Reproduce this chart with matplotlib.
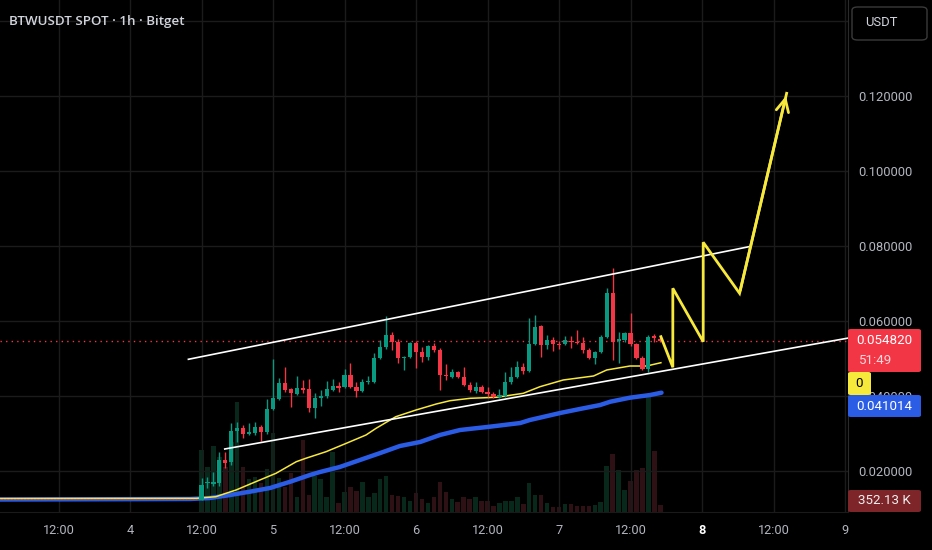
import numpy as np
import matplotlib.pyplot as plt
from matplotlib.patches import FancyBboxPatch

plt.rcParams['font.family'] = ['Roboto', 'DejaVu Sans']

# hourly candles, first one is day 4 12:00 (hours counted from day 4 00:00)
start_hour = 12
opens = [0.0124, 0.0170, 0.01667, 0.01693, 0.02307, 0.02253, 0.0308, 0.0316, 0.0300, 0.03027,
         0.03187, 0.03053, 0.03667, 0.03933, 0.0436, 0.0420, 0.04067, 0.04227, 0.0420, 0.03693,
         0.0396, 0.04013, 0.04173, 0.0428, 0.04253, 0.04573, 0.04253, 0.04147, 0.04387, 0.04387,
         0.05027, 0.0532, 0.0564, 0.05453, 0.05027, 0.05053, 0.05427, 0.05187, 0.05053, 0.05347,
         0.0524, 0.04573, 0.0452, 0.04653, 0.0452, 0.04307, 0.04147, 0.04253, 0.0412, 0.04067,
         0.03987, 0.04013, 0.04387, 0.0452, 0.04787, 0.0468, 0.0540, 0.0588, 0.05373, 0.05507,
         0.0540, 0.0540, 0.0548, 0.05453, 0.05427, 0.0524, 0.05027, 0.05187, 0.05587, 0.0676,
         0.05493, 0.05507, 0.05693, 0.0540, 0.05027, 0.04733, 0.05587, 0.05533]
highs = [0.01827, 0.01853, 0.01987, 0.0252, 0.0252, 0.03293, 0.0332, 0.0324, 0.03293, 0.0332,
         0.0324, 0.03933, 0.0500, 0.04493, 0.04787, 0.04227, 0.04547, 0.0444, 0.04467, 0.04093,
         0.04173, 0.04413, 0.04467, 0.04387, 0.0473, 0.04893, 0.04387, 0.04467, 0.04547, 0.0516,
         0.05507, 0.06147, 0.0572, 0.05533, 0.0508, 0.05453, 0.0548, 0.0532, 0.05373, 0.05427,
         0.05293, 0.04867, 0.0473, 0.0468, 0.04787, 0.04387, 0.04387, 0.04307, 0.04253, 0.0412,
         0.0420, 0.04653, 0.04787, 0.04947, 0.04893, 0.06093, 0.06173, 0.05907, 0.0564, 0.05587,
         0.0548, 0.05613, 0.05613, 0.05773, 0.05587, 0.05293, 0.05213, 0.0564, 0.06893, 0.07427,
         0.0572, 0.0572, 0.06227, 0.05427, 0.0508, 0.0564, 0.05667, 0.05587]
lows = [0.0124, 0.0156, 0.01613, 0.01613, 0.02093, 0.02173, 0.02787, 0.02893, 0.02973, 0.02973,
        0.02813, 0.0300, 0.0364, 0.03907, 0.0412, 0.0372, 0.0404, 0.04093, 0.03587, 0.03427,
        0.03747, 0.0396, 0.04147, 0.0412, 0.04227, 0.04227, 0.03987, 0.0412, 0.04333, 0.0436,
        0.0500, 0.05267, 0.0524, 0.04893, 0.0471, 0.05027, 0.0476, 0.0492, 0.04973, 0.05187,
        0.04173, 0.0444, 0.04493, 0.04493, 0.0428, 0.0412, 0.04093, 0.04093, 0.03987, 0.0396,
        0.0396, 0.03987, 0.04333, 0.04493, 0.0460, 0.04653, 0.05373, 0.05053, 0.05267, 0.05213,
        0.05267, 0.05373, 0.05293, 0.0540, 0.05159, 0.0500, 0.04867, 0.0516, 0.0556, 0.04973,
        0.04893, 0.05453, 0.05347, 0.0500, 0.0471, 0.04653, 0.05453, 0.05453]
closes = [0.0164, 0.0172, 0.0172, 0.02307, 0.02227, 0.0308, 0.0316, 0.0300, 0.03053, 0.03187,
          0.03053, 0.03667, 0.0396, 0.0436, 0.04173, 0.04093, 0.04227, 0.04173, 0.03693, 0.0396,
          0.04013, 0.0420, 0.0428, 0.04227, 0.04573, 0.04253, 0.04147, 0.04387, 0.04413, 0.05027,
          0.0532, 0.0564, 0.05453, 0.05027, 0.05053, 0.05427, 0.05187, 0.05053, 0.05347, 0.0524,
          0.04573, 0.04547, 0.04653, 0.0452, 0.04307, 0.04173, 0.04253, 0.0412, 0.04067, 0.03987,
          0.0404, 0.04387, 0.0452, 0.04787, 0.0468, 0.0540, 0.05853, 0.05373, 0.05507, 0.0540,
          0.05373, 0.05507, 0.05453, 0.05427, 0.0524, 0.05027, 0.05187, 0.05587, 0.0676, 0.05453,
          0.05507, 0.05693, 0.0540, 0.05027, 0.04733, 0.05587, 0.05573, 0.05482]
volumes_k = [3100, 2250, 3300, 2750, 2250, 3500, 5500, 2250, 1650, 1750,
             1450, 2150, 3950, 1700, 1250, 1950, 750, 3600, 850, 1800,
             1650, 750, 3000, 450, 1000, 1250, 1050, 1500, 750, 950,
             1650, 1800, 850, 800, 750, 550, 950, 650, 450, 750,
             1500, 1000, 650, 500, 750, 650, 750, 550, 550, 300,
             450, 550, 550, 750, 400, 1450, 850, 850, 450, 250,
             250, 400, 400, 300, 300, 300, 350, 500, 2300, 2900,
             2100, 1100, 1550, 2100, 2200, 5750, 3050, 352.13]

# moving averages (hour, price)
ma_fast_hours = [-21.8, 11.1, 14.4, 16.1, 17.8, 21.1, 24.5, 27.9, 29.5, 32.9, 36.3, 39.6, 41.3,
                 44.6, 48.0, 51.4, 53.7, 57.1, 61.5, 66.0, 68.8, 72.7, 77.8, 80.0, 83.9, 86.7, 89.1]
ma_fast = [0.0128, 0.01285, 0.01328, 0.01419, 0.01507, 0.01728, 0.01952, 0.02261, 0.02352, 0.02528,
           0.02752, 0.02973, 0.03152, 0.03461, 0.0364, 0.0380, 0.03888, 0.03952, 0.03979, 0.04085,
           0.04261, 0.0444, 0.04547, 0.04707, 0.04813, 0.04813, 0.04901]
ma_slow_hours = [-21.8, 10.1, 13.4, 16.8, 20.1, 23.5, 26.9, 30.2, 31.9, 35.2, 38.6, 42.0, 45.3,
                 48.7, 52.0, 55.4, 60.4, 65.5, 67.1, 72.2, 75.5, 78.9, 80.6, 83.9, 87.3, 89.2]
ma_slow = [0.01253, 0.01267, 0.01293, 0.01373, 0.01461, 0.0156, 0.01728, 0.01907, 0.01987, 0.0212,
           0.02307, 0.02493, 0.0268, 0.02787, 0.02973, 0.03107, 0.03195, 0.03293, 0.03373, 0.0356,
           0.03667, 0.03773, 0.03861, 0.03968, 0.0404, 0.041014]
pre_listing_price = 0.0127

# drawings: channel and projected path
channel_upper = ([9.8, 103.9], [0.04992, 0.07995])
channel_lower = ([15.9, 121.0], [0.0260, 0.05571])
path_hours = [89.1, 91.1, 91.1, 96.2, 96.2, 102.3, 110.2]
path_prices = [0.05595, 0.04779, 0.06885, 0.05461, 0.08112, 0.06752, 0.12085]

price_ticks = [0.02, 0.04, 0.06, 0.08, 0.10, 0.12, 0.14]
time_ticks = [-12, 0, 12, 24, 36, 48, 60, 72, 84, 96, 108, 120]
time_labels = ['12:00', '4', '12:00', '5', '12:00', '6', '12:00', '7', '12:00', '8', '12:00', '9']

GREEN = '#089981'
RED = '#f23645'
YELLOW = '#f7e83c'
BLUE = '#2b5ce6'
TXT = '#b2b5be'
GRID = '#1b1b1b'

fig = plt.figure(figsize=(9.32, 5.5), dpi=100, facecolor='black')
ax = fig.add_axes([0, 38 / 550, 848 / 932, 512 / 550])
axv = ax.twinx()
ax.set_zorder(axv.get_zorder() + 1)
ax.patch.set_visible(False)
axv.set_facecolor('black')

times = start_hour + np.arange(len(opens))
o, h, l, c = map(np.array, (opens, highs, lows, closes))
up = c >= o
col = np.where(up, GREEN, RED)

# volume
vcol = np.where(up, '#09281c', '#2d1114')
axv.bar(times, volumes_k, width=0.75, color=vcol)
axv.set_ylim(0, 25600)
axv.axis('off')

# candles
ax.vlines(times, l, h, colors=col, lw=1, zorder=4)
body_lo = np.minimum(o, c)
body_h = np.maximum(np.abs(c - o), 0.0003)
ax.bar(times, body_h, bottom=body_lo, width=0.7, color=col, zorder=5)

# pre-listing flat segment
ax.hlines(pre_listing_price, -22, 11.5, colors=RED, lw=0.8, linestyles=(0, (1, 2)), zorder=6)

ax.plot(ma_slow_hours, ma_slow, color=BLUE, lw=3.2, solid_capstyle='round', zorder=3)
ax.plot(ma_fast_hours, ma_fast, color=YELLOW, lw=1.1, zorder=3)

ax.plot(*channel_upper, color='white', lw=1.2, zorder=6)
ax.plot(*channel_lower, color='white', lw=1.2, zorder=6)

ax.plot(path_hours, path_prices, color=YELLOW, lw=2.0, solid_joinstyle='miter', zorder=7)
ax.annotate('', xy=(path_hours[-1], path_prices[-1]), xytext=(path_hours[-2], path_prices[-2]),
            arrowprops=dict(arrowstyle='->,head_length=0.9,head_width=0.45', color=YELLOW, lw=2.0),
            zorder=7)

ax.axhline(closes[-1], color=RED, lw=1, linestyle=(0, (1, 3)), zorder=2)

ax.set_xlim(-21.82, 120.5)
ax.set_ylim(0.0092, 0.14573)
ax.set_xticks(time_ticks)
ax.set_xticklabels(time_labels)
ax.set_yticks(price_ticks)
ax.set_yticklabels([f'{p:.6f}' if p < 0.13 else '' for p in price_ticks])
ax.yaxis.tick_right()
ax.tick_params(axis='y', length=0, pad=7.5, labelsize=9.4, labelcolor=TXT)
ax.tick_params(axis='x', length=0, pad=9, labelsize=9.2, labelcolor=TXT)
lab8 = ax.get_xticklabels()[time_labels.index('8')]
lab8.set_fontweight('bold')
lab8.set_color('white')
ax.grid(True, color=GRID, lw=1)
for s in ('top', 'left'):
    ax.spines[s].set_visible(False)
ax.spines['right'].set_color('#2a2a2a')
ax.spines['bottom'].set_color('#1a1a1a')


def fx(px):
    return px / 932


def fy(py):
    return 1 - py / 550


fig.text(fx(9), fy(21), 'BTWUSDT SPOT · 1h · Bitget', color='#d1d4dc', fontsize=9.6,
         va='center', ha='left', family=['Open Sans', 'DejaVu Sans'], fontweight='semibold')

# USDT button
fig.patches.append(FancyBboxPatch((fx(852), fy(40)), fx(75), 33 / 550, boxstyle='round,pad=0,rounding_size=0.006',
                                  transform=fig.transFigure, fc='black', ec='#3a3a3a', lw=1))
fig.text(fx(865), fy(22), 'USDT', color='#d1d4dc', fontsize=9.4, va='center', ha='left')


def label_box(x0, y0, x1, y1, fc):
    fig.patches.append(FancyBboxPatch((fx(x0), fy(y1)), fx(x1 - x0), (y1 - y0) / 550,
                                      boxstyle='round,pad=0,rounding_size=0.003',
                                      transform=fig.transFigure, fc=fc, ec='none'))


label_box(848, 329, 921, 372, RED)
fig.text(fx(884.5), fy(341), f'{closes[-1]:.6f}', color='white', fontsize=9.6, ha='center', va='center')
fig.text(fx(858), fy(361), '51:49', color='#ffd6da', fontsize=9.6, ha='left', va='center')
label_box(848, 372, 871, 395, YELLOW)
fig.text(fx(859.5), fy(383.5), '0', color='black', fontsize=9.6, ha='center', va='center')
label_box(848, 395, 921, 417, BLUE)
fig.text(fx(884.5), fy(406), f'{ma_slow[-1]:.6f}', color='white', fontsize=9.6, ha='center', va='center')
label_box(848, 490, 921, 512, '#7d2528')
fig.text(fx(884.5), fy(501), f'{volumes_k[-1]:.2f} K', color='#f0f0f0', fontsize=9.6, ha='center', va='center')

fig.savefig('out.png', dpi=100, facecolor='black')
